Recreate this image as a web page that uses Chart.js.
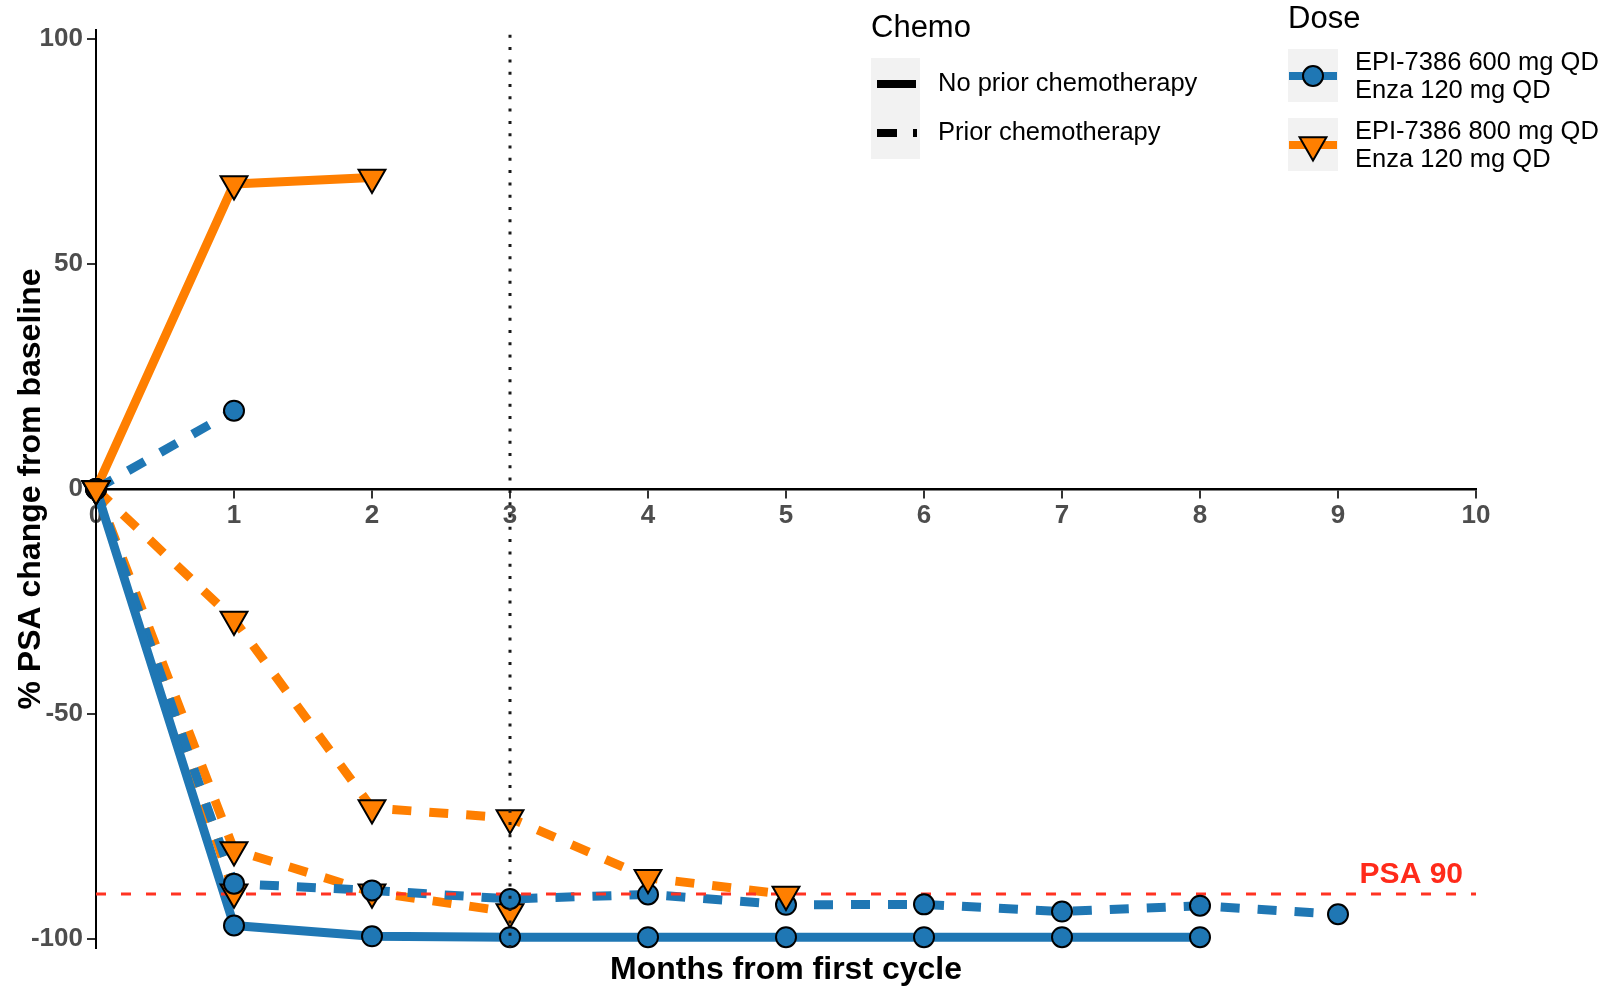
<!DOCTYPE html>
<html>
<head>
<meta charset="utf-8">
<script src="https://cdn.jsdelivr.net/npm/chart.js@4.4.1/dist/chart.umd.min.js"></script>
<style>
  html, body { margin: 0; padding: 0; background: #fff; }
  #wrap { width: 1607px; height: 987px; }
</style>
</head>
<body>
<div id="wrap"><canvas id="psaChart" width="1607" height="987"></canvas></div>
<script>
// months from first cycle, each patient array starts at month 0
const months = [0, 1, 2, 3, 4, 5, 6, 7, 8, 9];
const xTicks = [0, 1, 2, 3, 4, 5, 6, 7, 8, 9, 10];
const yTicks = [-100, -50, 0, 50, 100];

const doseLabels = [["EPI-7386 600 mg QD", "Enza 120 mg QD"], ["EPI-7386 800 mg QD", "Enza 120 mg QD"]];
const chemoLabels = ["No prior chemotherapy", "Prior chemotherapy"];
const doseColors = ["#1F77B4", "#FF7F00"];

// % PSA change per patient
const p600NoChemo = [0, -97, -99.4, -99.6, -99.6, -99.6, -99.6, -99.6, -99.6];
const p600ChemoA = [0, 17.4];
const p600ChemoB = [0, -87.7, -89.2, -91.1, -90.1, -92.4, -92.3, -93.9, -92.6, -94.5];
const p800NoChemo = [0, 67.8, 69.2];
const p800ChemoA = [0, -29, -70.9, -73.1, -86.4, -90.1];
const p800ChemoB = [0, -80.2, -89.6, -94];
const p800ChemoC = [0, -89.6];

const psaThreshold = -90;
const landmarkMonth = 3;

// [values, dose index, chemo index, line order, point order]
// higher order is drawn first
const patients = [
  [p600NoChemo, 0, 0, 42, 17],
  [p600ChemoB, 0, 1, 43, 18],
  [p600ChemoA, 0, 1, 44, 16],
  [p800ChemoB, 1, 1, 46, 20],
  [p800ChemoC, 1, 1, 47, 19],
  [p800ChemoA, 1, 1, 45, 15],
  [p800NoChemo, 1, 0, 48, 14]
];

const Y_MIN = -102, Y_MAX = 102;
const FONT = '"Liberation Sans", Arial, sans-serif';

function toXY(vals) {
  return vals.map((v, i) => ({ x: months[i], y: v }));
}

let datasets = [];
patients.forEach(([vals, dose, chemo, lo, po]) => {
  datasets.push({
    data: toXY(vals),
    borderColor: doseColors[dose],
    borderWidth: 9,
    borderDash: chemo ? [19, 18] : [],
    borderJoinStyle: 'round',
    pointRadius: 0,
    order: lo,
    clip: false
  });
  datasets.push({
    data: toXY(vals),
    showLine: false,
    pointStyle: dose ? 'triangle' : 'circle',
    pointRotation: dose ? 180 : 0,
    pointRadius: dose ? 15.5 : 10,
    pointBackgroundColor: doseColors[dose],
    pointBorderColor: '#000',
    pointBorderWidth: 2,
    order: po,
    clip: false
  });
});

// PSA 90 threshold
datasets.push({
  data: [{ x: xTicks[0], y: psaThreshold }, { x: xTicks[xTicks.length - 1], y: psaThreshold }],
  borderColor: '#FF3322',
  borderWidth: 3,
  borderDash: [10, 15],
  pointRadius: 0,
  order: 30
});
// 3 month landmark
datasets.push({
  data: [{ x: landmarkMonth, y: Y_MIN }, { x: landmarkMonth, y: Y_MAX }],
  borderColor: '#1a1a1a',
  borderWidth: 3,
  borderDash: [3, 9.3],
  pointRadius: 0,
  order: 0
});

function downTriangle(ctx, cx, cy, r) {
  ctx.beginPath();
  let a = Math.PI;
  ctx.moveTo(cx + Math.sin(a) * r, cy - Math.cos(a) * r);
  a += 2 * Math.PI / 3;
  ctx.lineTo(cx + Math.sin(a) * r, cy - Math.cos(a) * r);
  a += 2 * Math.PI / 3;
  ctx.lineTo(cx + Math.sin(a) * r, cy - Math.cos(a) * r);
  ctx.closePath();
  ctx.fill();
  ctx.stroke();
}

const overlay = {
  id: 'overlay',
  afterDraw(chart) {
    const ctx = chart.ctx;
    const area = chart.chartArea;
    const xs = chart.scales.x, ys = chart.scales.y;
    ctx.save();

    // axis titles
    ctx.fillStyle = '#000';
    ctx.font = 'bold 32px ' + FONT;
    ctx.textAlign = 'center';
    ctx.textBaseline = 'middle';
    ctx.fillText('Months from first cycle', (area.left + area.right) / 2, 970);
    ctx.save();
    ctx.translate(31, (area.top + area.bottom) / 2);
    ctx.rotate(-Math.PI / 2);
    ctx.fillText('% PSA change from baseline', 0, 0);
    ctx.restore();

    // threshold label
    ctx.fillStyle = '#FF2A1A';
    ctx.font = 'bold 30px ' + FONT;
    ctx.textAlign = 'right';
    ctx.textBaseline = 'alphabetic';
    ctx.fillText('PSA 90', xs.getPixelForValue(10) - 13, ys.getPixelForValue(psaThreshold) - 11);

    // Chemo legend
    ctx.textAlign = 'left';
    ctx.textBaseline = 'middle';
    ctx.fillStyle = '#000';
    ctx.font = '31px ' + FONT;
    ctx.fillText('Chemo', 871, 28);
    ctx.fillStyle = '#F2F2F2';
    ctx.fillRect(871, 58, 49, 101);
    ctx.strokeStyle = '#000';
    ctx.lineWidth = 8;
    ctx.beginPath(); ctx.moveTo(877, 84); ctx.lineTo(916, 84); ctx.stroke();
    ctx.setLineDash([20, 16]);
    ctx.beginPath(); ctx.moveTo(877, 133); ctx.lineTo(917, 133); ctx.stroke();
    ctx.setLineDash([]);
    ctx.fillStyle = '#000';
    ctx.font = '25.5px ' + FONT;
    ctx.fillText(chemoLabels[0], 938, 84);
    ctx.fillText(chemoLabels[1], 938, 133);

    // Dose legend
    ctx.font = '31px ' + FONT;
    ctx.fillText('Dose', 1288, 19);
    const boxTops = [49, 118];
    boxTops.forEach((top, i) => {
      const cy = top + 27;
      ctx.fillStyle = '#F2F2F2';
      ctx.fillRect(1288, top, 50, 53);
      ctx.strokeStyle = doseColors[i];
      ctx.lineWidth = 8;
      ctx.beginPath(); ctx.moveTo(1289, cy); ctx.lineTo(1337, cy); ctx.stroke();
      ctx.fillStyle = doseColors[i];
      ctx.strokeStyle = '#000';
      ctx.lineWidth = 2;
      if (i === 0) {
        ctx.beginPath(); ctx.arc(1313, cy, 10, 0, Math.PI * 2); ctx.fill(); ctx.stroke();
      } else {
        downTriangle(ctx, 1313, cy, 15.5);
      }
      ctx.fillStyle = '#000';
      ctx.font = '25.5px ' + FONT;
      ctx.fillText(doseLabels[i][0], 1355, top + 14);
      ctx.fillText(doseLabels[i][1], 1355, top + 42);
    });

    ctx.restore();
  }
};

Chart.defaults.font.family = FONT;

new Chart(document.getElementById('psaChart'), {
  type: 'line',
  data: { datasets },
  plugins: [overlay],
  options: {
    responsive: false,
    devicePixelRatio: 1,
    animation: false,
    events: [],
    layout: { padding: { left: 0, top: 30, right: 131, bottom: 39 } },
    plugins: { legend: { display: false }, tooltip: { enabled: false } },
    scales: {
      x: {
        type: 'linear',
        min: 0,
        max: 10,
        position: { y: 0 },
        afterBuildTicks: s => { s.ticks = xTicks.map(v => ({ value: v })); },
        afterFit: s => { s.paddingLeft = 0; s.paddingRight = 0; },
        grid: { display: true, drawOnChartArea: false, drawTicks: true, tickLength: 8, color: '#333', lineWidth: 2 },
        border: { display: true, color: '#000', width: 2.5 },
        ticks: { color: '#4D4D4D', font: { size: 26, weight: 'bold' }, padding: 3, maxRotation: 0, autoSkip: false }
      },
      y: {
        type: 'linear',
        min: Y_MIN,
        max: Y_MAX,
        afterBuildTicks: s => { s.ticks = yTicks.map(v => ({ value: v })); },
        afterFit: s => { s.width = 96; s.paddingTop = 0; s.paddingBottom = 0; },
        grid: { display: true, drawOnChartArea: false, drawTicks: true, tickLength: 9, color: '#333', lineWidth: 2 },
        border: { display: true, color: '#000', width: 2 },
        ticks: { color: '#4D4D4D', font: { size: 26, weight: 'bold' }, padding: 4 }
      }
    }
  }
});
</script>
</body>
</html>
